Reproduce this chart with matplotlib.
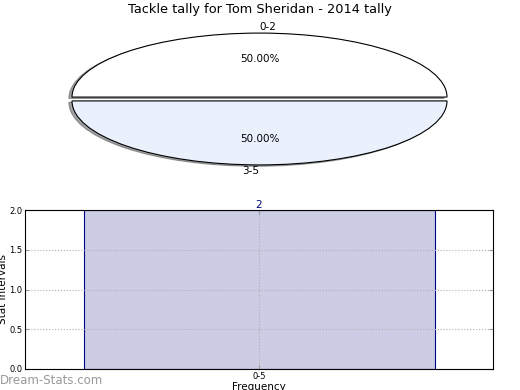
import matplotlib
matplotlib.use('Agg')
import matplotlib.pyplot as plt

# pie data
pie_labels = ['0-2', '3-5']
pie_values = [1, 1]
pie_colors = ['#ffffff', '#eaf1fd']

# bar data
bar_labels = ['0-5']
bar_values = [2]

fig = plt.figure(figsize=(5.2, 3.9), dpi=100)

# pie on top, squashed into an ellipse
ax1 = fig.add_axes([72 / 520, 1 - 169.4 / 390, 375 / 520, 140.8 / 390])
wedges, texts, autotexts = ax1.pie(pie_values, labels=pie_labels, colors=pie_colors,
                                   autopct='%.2f%%', startangle=0,
                                   shadow={'ox': -0.012, 'oy': -0.015},
                                   explode=[0.03, 0.03],
                                   wedgeprops={'edgecolor': 'black', 'linewidth': 0.8},
                                   textprops={'fontsize': 7.5})
# old style label alignment: top label to the right, bottom label to the left
texts[0].set_ha('left')
texts[1].set_ha('right')
ax1.set_aspect('auto')
ax1.set_xlim(-1, 1)
ax1.set_ylim(-1.1, 1.1)
ax1.axis('off')
fig.text(0.5, 1 - 10 / 390, 'Tackle tally for Tom Sheridan - 2014 tally',
         ha='center', va='center', fontsize=9.3)

# bar chart below
ax2 = fig.add_axes([25 / 520, 1 - 369 / 390, 468 / 520, 159 / 390])
x = [0.5 + i for i in range(len(bar_values))]
ax2.bar(x, bar_values, width=0.75, color='#ccccE5', edgecolor='#000080',
        linewidth=0.8, zorder=1)
for xi, v in zip(x, bar_values):
    ax2.text(xi, v, str(v), ha='center', va='bottom', fontsize=7.5, color='#000080')
ax2.set_xlim(0, len(bar_values))
ax2.set_ylim(0, 2)
ax2.set_xticks(x)
ax2.set_xticklabels(bar_labels)
ax2.set_yticks([0, 0.5, 1.0, 1.5, 2.0])
ax2.set_yticklabels(['0.0', '0.5', '1.0', '1.5', '2.0'])
ax2.tick_params(labelsize=6, direction='in', length=3, color='#999999', pad=2,
                top=True, right=True)
ax2.grid(True, linestyle=':', color='#b0b0b0', linewidth=0.8, zorder=2)
ax2.set_axisbelow(False)
for s in ax2.spines.values():
    s.set_zorder(4)
ax2.set_xlabel('Frequency', fontsize=7.5, labelpad=1)
ax2.set_ylabel('Stat Intervals', fontsize=7.5)
ax2.yaxis.set_label_coords(-0.036, 0.5)

fig.text(0.0, 1 - 381 / 390, 'Dream-Stats.com', ha='left', va='center',
         fontsize=8.5, color='#999999')

plt.savefig('out.png', dpi=100)
